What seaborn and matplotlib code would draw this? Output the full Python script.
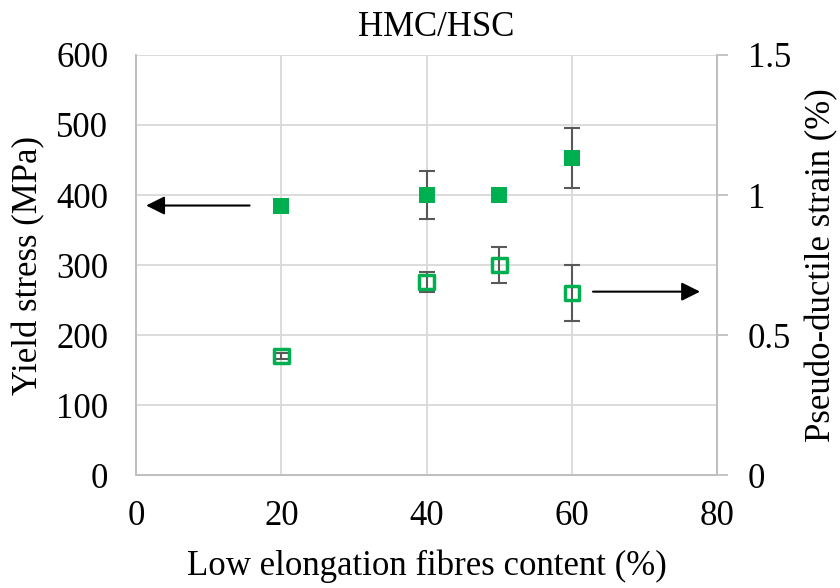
import matplotlib
matplotlib.use('Agg')
import matplotlib.pyplot as plt
import seaborn as sns
import pandas as pd

# data
content = [20, 40, 50, 60]
yield_stress = [385, 400, 400, 453]
yield_err = [0, 34, 0, 43]
strain = [0.425, 0.69, 0.75, 0.65]
strain_err = [0.01, 0.035, 0.065, 0.1]

df = pd.DataFrame({'content': content, 'yield': yield_stress, 'strain': strain})

sns.set_style('white')
plt.rcParams['font.family'] = ['Liberation Serif', 'DejaVu Serif']
plt.rcParams['font.size'] = 25
plt.rcParams['text.color'] = 'black'
plt.rcParams['axes.labelcolor'] = 'black'
plt.rcParams['xtick.labelcolor'] = 'black'
plt.rcParams['ytick.labelcolor'] = 'black'

green = '#00B050'
grid_c = '#D9D9D9'
spine_c = '#BFBFBF'
err_c = '#595959'

fig = plt.figure(figsize=(8.4, 5.88), dpi=100)
ax = fig.add_axes([0.162, 0.192, 0.692, 0.7145])
ax2 = ax.twinx()

# yield stress (left axis), filled squares
ax.errorbar(content, yield_stress, yerr=yield_err, fmt='none', ecolor=err_c,
            elinewidth=1.5, capsize=6, capthick=1.5, zorder=2)
sns.scatterplot(data=df, x='content', y='yield', ax=ax, marker='s', s=120,
                color=green, edgecolor=green, linewidth=0, zorder=3, legend=False)

# pseudo-ductile strain (right axis), open squares
ax2.errorbar(content, strain, yerr=strain_err, fmt='none', ecolor=err_c,
             elinewidth=1.5, capsize=6, capthick=1.5, zorder=2)
sns.scatterplot(data=df, x='content', y='strain', ax=ax2, marker='s', s=110,
                facecolor='none', edgecolor=green, linewidth=2.5, zorder=3, legend=False)

ax.set_xlim(0, 80)
ax.set_ylim(0, 600)
ax2.set_ylim(0, 1.5)
ax.set_xticks([0, 20, 40, 60, 80])
ax.set_yticks(range(0, 601, 100))
ax2.set_yticks([0, 0.5, 1, 1.5])
ax2.set_yticklabels(['0', '0.5', '1', '1.5'])

ax.grid(True, color=grid_c, lw=1.3)
ax.set_axisbelow(True)
ax2.grid(False)

ax.spines['top'].set_visible(False)
ax2.spines['top'].set_visible(False)
for a in (ax, ax2):
    for s in ['left', 'bottom', 'right']:
        a.spines[s].set_color(spine_c)
        a.spines[s].set_linewidth(1.3)

ax.tick_params(axis='x', direction='out', length=8, width=1.3, color=grid_c, pad=10)
ax.tick_params(axis='y', length=0, pad=20)
ax2.tick_params(axis='y', direction='out', length=8, width=1.3, color=spine_c, pad=14)

ax.set_xlabel('Low elongation fibres content (%)', labelpad=12)
ax.set_ylabel('Yield stress (MPa)', labelpad=8)
ax2.set_ylabel('Pseudo-ductile strain (%)', labelpad=10)

# arrows pointing to the relevant axis
ax.annotate('', xy=(1, 385), xytext=(16, 385),
            arrowprops=dict(arrowstyle='-|>', color='black', lw=1.5, mutation_scale=28))
ax2.annotate('', xy=(78, 0.655), xytext=(62.5, 0.655),
             arrowprops=dict(arrowstyle='-|>', color='black', lw=1.5, mutation_scale=28))

fig.text(436 / 840, 1 - 28 / 588, 'HMC/HSC', ha='center', va='center')

fig.savefig('out.png', dpi=100)
